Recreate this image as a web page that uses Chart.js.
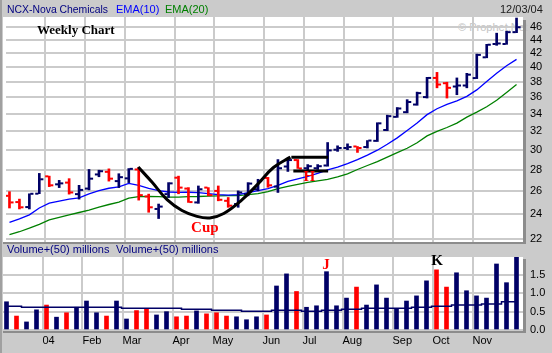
<!DOCTYPE html>
<html>
<head>
<meta charset="utf-8">
<script src="https://cdn.jsdelivr.net/npm/chart.js@4.4.0/dist/chart.umd.min.js"></script>
<style>
  body { margin: 0; background: #cbcbcb; }
  #wrap { position: relative; width: 552px; height: 353px; overflow: hidden; background: #cbcbcb; }
  #wrap canvas { position: absolute; left: 0; top: 0; }
  .box { position: absolute; }
  .txt { position: absolute; font: 11px "Liberation Sans", Arial, sans-serif; line-height: 13px; white-space: nowrap; }
</style>
</head>
<body>
<div id="wrap">
  <div class="box" style="left:3px;top:17px;width:520px;height:225px;background:#fff"></div>
  <div class="box" style="left:3px;top:257px;width:520px;height:73px;background:#fff"></div>
  <div class="txt" style="left:458px;top:21px;color:#c4c4c4;font-size:11px">© Prophet.Net</div>
  <canvas id="vol" width="552" height="353"></canvas>
  <canvas id="price" width="552" height="353"></canvas>
  <div class="box" style="left:523px;top:20px;width:3px;height:224px;background:#8c8c8c"></div>
  <div class="box" style="left:3px;top:242px;width:523px;height:2px;background:#8c8c8c"></div>
  <div class="box" style="left:523px;top:259px;width:3px;height:74px;background:#8c8c8c"></div>
  <div class="box" style="left:3px;top:331px;width:523px;height:2px;background:#8c8c8c"></div>
  <div class="box" style="left:0;top:0;width:2px;height:353px;background:#a0a0a0"></div>
  <div class="txt" style="left:7px;top:3px;color:#000080;font-size:10.4px">NCX-Nova Chemicals</div>
  <div class="txt" style="left:116px;top:3px;color:#0000ff">EMA(10)</div>
  <div class="txt" style="left:165px;top:3px;color:#008000">EMA(20)</div>
  <div class="txt" style="left:500px;top:3px;color:#202020">12/03/04</div>
  <div class="txt" style="left:7px;top:243px;color:#000080">Volume+(50) millions</div>
  <div class="txt" style="left:116px;top:243px;color:#000080">Volume+(50) millions</div>
  <div class="txt" style="left:37px;top:22px;color:#000;font:bold 13px 'Liberation Serif', 'Times New Roman', serif;line-height:15px">Weekly Chart</div>
</div>
<script>
'use strict';
// weekly bars, 12/12/03 .. 12/03/04 (index 0..51)
let highs = [25.93, 25.27, 25.74, 27.63, 27.37, 26.97, 27.13, 26.51, 28.01, 27.94,
    28.07, 27.60, 28.10, 28.22, 25.71, 24.84, 26.76, 27.37, 26.30, 26.45,
    26.30, 26.45, 25.41, 26.00, 26.76, 27.07, 27.25, 28.99, 29.09, 28.99,
    28.49, 28.49, 30.76, 30.41, 30.62, 30.34, 30.97, 32.95, 33.83, 34.74,
    35.70, 36.65, 38.58, 39.25, 37.93, 38.50, 39.12, 41.83, 43.27, 44.98,
    45.29, 47.41]
let lows = [24.50, 24.42, 24.42, 25.75, 26.39, 26.30, 25.71, 25.27, 26.09, 27.31,
    26.90, 26.30, 26.76, 25.18, 24.14, 23.62, 25.41, 25.74, 24.98, 24.90,
    25.56, 25.12, 24.56, 24.56, 25.56, 26.00, 26.33, 25.86, 27.82, 28.11,
    27.96, 28.01, 28.33, 29.83, 30.00, 29.72, 30.18, 30.87, 32.05, 33.57,
    34.10, 35.01, 35.90, 37.20, 35.90, 36.32, 37.20, 38.41, 41.29, 43.12,
    43.27, 45.06]
let opens = [25.56, 25.01, 24.58, 25.75, 27.35, 26.60, 26.76, 25.71, 26.21, 27.53,
    27.78, 26.90, 27.16, 28.01, 25.50, 24.42, 25.71, 27.22, 26.21, 24.98,
    26.30, 26.00, 25.12, 24.84, 25.71, 26.15, 27.20, 26.39, 28.30, 28.94,
    28.13, 28.13, 28.40, 30.00, 30.18, 30.34, 30.28, 30.94, 32.13, 33.63,
    34.18, 35.10, 36.02, 38.50, 37.80, 37.37, 37.50, 38.48, 41.36, 43.32,
    43.32, 45.14]
let closes = [24.98, 24.56, 25.74, 27.07, 26.51, 26.69, 25.86, 26.09, 27.13, 27.84,
    27.13, 27.27, 28.07, 25.62, 24.56, 24.62, 26.69, 26.30, 25.01, 26.15,
    25.62, 25.21, 24.70, 25.86, 26.67, 26.90, 26.51, 28.13, 28.94, 28.11,
    28.33, 28.33, 29.93, 30.18, 30.28, 30.18, 30.97, 32.88, 33.71, 34.62,
    35.41, 36.52, 38.50, 37.63, 37.20, 37.50, 38.94, 41.71, 43.21, 43.40,
    45.14, 45.92]
let priceDown = [1, 1, 0, 0, 1, 0, 1, 0, 0, 0, 1, 0, 0, 1, 1, 0, 0, 1, 1, 0,
    1, 1, 1, 0, 0, 0, 1, 0, 0, 1, 0, 0, 0, 0, 0, 1, 0, 0, 0, 0,
    0, 0, 0, 1, 1, 0, 0, 0, 0, 0, 0, 0]
let ema10 = [23.31, 23.59, 23.92, 24.50, 24.92, 25.10, 25.27, 25.38, 25.73, 26.02,
    26.24, 26.36, 26.69, 26.51, 26.24, 26.02, 25.90, 25.86, 25.88, 25.84,
    25.75, 25.66, 25.62, 25.66, 25.84, 26.02, 26.20, 26.51, 26.88, 27.11,
    27.35, 27.63, 27.96, 28.25, 28.59, 28.99, 29.44, 29.95, 30.57, 31.26,
    32.08, 32.91, 33.89, 34.59, 35.13, 35.56, 36.11, 36.93, 38.02, 39.14,
    40.16, 41.07]
let ema20 = [22.33, 22.56, 22.84, 23.15, 23.51, 23.71, 23.92, 24.12, 24.33, 24.58,
    24.80, 25.01, 25.36, 25.49, 25.50, 25.49, 25.44, 25.44, 25.49, 25.50,
    25.53, 25.55, 25.58, 25.58, 25.66, 25.75, 25.93, 26.20, 26.42, 26.60,
    26.79, 26.93, 27.06, 27.30, 27.58, 28.01, 28.40, 28.79, 29.24, 29.69,
    30.15, 30.73, 31.48, 31.97, 32.41, 32.91, 33.60, 34.18, 34.83, 35.62,
    36.61, 37.63]

// volume in millions
let volumes = [0.77, 0.38, 0.22, 0.55, 0.68, 0.35, 0.47, 0.62, 0.79, 0.47,
    0.38, 0.79, 0.30, 0.53, 0.57, 0.41, 0.50, 0.36, 0.38, 0.52,
    0.44, 0.47, 0.38, 0.36, 0.28, 0.36, 0.41, 1.20, 1.53, 1.05,
    0.62, 0.66, 1.59, 0.66, 0.87, 1.17, 0.68, 1.23, 0.87, 0.57,
    0.79, 0.93, 1.34, 1.64, 1.17, 1.56, 1.07, 0.93, 0.87, 1.80,
    1.29, 2.02]
let volDown = [0, 1, 0, 0, 1, 0, 1, 0, 0, 0, 1, 0, 0, 1, 1, 0, 0, 1, 1, 0,
    1, 1, 1, 0, 0, 0, 1, 0, 0, 1, 0, 0, 0, 0, 0, 1, 0, 0, 0, 0,
    0, 0, 0, 1, 1, 0, 0, 0, 0, 0, 0, 0]
let volAvg = [0.65, 0.65, 0.62, 0.62, 0.62, 0.62, 0.62, 0.62, 0.62, 0.62,
    0.62, 0.62, 0.59, 0.59, 0.59, 0.59, 0.59, 0.59, 0.565, 0.565,
    0.565, 0.54, 0.54, 0.54, 0.51, 0.51, 0.51, 0.54, 0.54, 0.54,
    0.51, 0.51, 0.54, 0.54, 0.565, 0.565, 0.59, 0.59, 0.59, 0.59,
    0.59, 0.62, 0.62, 0.65, 0.65, 0.68, 0.68, 0.68, 0.71, 0.71,
    0.77, 0.77]

// month gridlines (in week units) and their labels
let monthAt = [3.6, 7.6, 11.6, 16.6, 20.6, 25.6, 29.6, 33.6, 38.6, 42.6, 46.6]
let monthNames = ['04', 'Feb', 'Mar', 'Apr', 'May', 'Jun', 'Jul', 'Aug', 'Sep', 'Oct', 'Nov']
let priceTicks = [22, 24, 26, 28, 30, 32, 34, 36, 38, 40, 42, 44, 46]
let volTicks = [0, 0.5, 1, 1.5]

// hand drawn cup and handle
let cupX = [12.95, 14.35, 15.85, 17.35, 18.85, 20.15, 21.55, 23.35, 24.95, 26.55, 28.25]
let cupY = [28.25, 26.79, 25.22, 24.29, 23.80, 23.67, 24.04, 25.18, 26.60, 28.20, 29.24]
let handleTop = [[28.35, 29.22], [32.05, 29.22]]
let handleBottom = [[28.55, 27.85], [32.05, 27.85]]

let priceNotes = [
    { text: 'Cup', x: 19.65, y: 22.87, color: '#ff0000' },
    { text: 'H', x: 30.15, y: 27.30, color: '#ff0000' }
]
let volNotes = [
    { text: 'J', x: 31.95, y: 1.78, color: '#ff0000' },
    { text: 'K', x: 43.05, y: 1.88, color: '#000000' }
]

const NAVY = '#000066'
const RED = '#ff0000'
const GRID = '#cbcbcb'
const X_MIN = -0.35
const X_MAX = 51.65

function notePlugin(notes) {
    return {
        id: 'notes',
        afterDatasetsDraw(chart) {
            let ctx = chart.ctx
            let xs = chart.scales.x
            let ys = chart.scales.y
            ctx.save()
            ctx.font = 'bold 15px "Liberation Serif", "Times New Roman", serif'
            ctx.textAlign = 'center'
            ctx.textBaseline = 'middle'
            notes.forEach(n => {
                ctx.fillStyle = n.color
                ctx.fillText(n.text, xs.getPixelForValue(n.x), ys.getPixelForValue(n.y))
            })
            ctx.restore()
        }
    }
}

function xAxis(showLabels) {
    return {
        type: 'linear',
        min: X_MIN,
        max: X_MAX,
        offset: false,
        afterBuildTicks: s => { s.ticks = monthAt.map(v => ({ value: v })) },
        afterFit: s => { s.height = showLabels ? 23 : 0; s.paddingLeft = 0; s.paddingRight = 0 },
        grid: { color: GRID, lineWidth: 2, drawTicks: false, offset: false },
        border: { display: false },
        ticks: {
            display: showLabels,
            autoSkip: false,
            maxRotation: 0,
            align: 'start',
            padding: 4,
            color: '#000',
            font: { family: '"Liberation Sans", Arial, sans-serif', size: 11 },
            callback: (v, i) => monthNames[i]
        }
    }
}

let weeks = highs.map((h, i) => i)
let barColor = priceDown.map(d => d ? RED : NAVY)

new Chart(document.getElementById('price'), {
    type: 'bar',
    data: {
        datasets: [
            { type: 'line', data: cupX.map((x, i) => ({ x: x, y: cupY[i] })), borderColor: '#000', borderWidth: 3, pointRadius: 0, tension: 0.4, order: 0 },
            { type: 'line', data: handleTop.map(p => ({ x: p[0], y: p[1] })), borderColor: '#000', borderWidth: 3, pointRadius: 0, order: 0 },
            { type: 'line', data: handleBottom.map(p => ({ x: p[0], y: p[1] })), borderColor: '#000', borderWidth: 3, pointRadius: 0, order: 0 },
            { type: 'scatter', data: weeks.map(i => ({ x: i - 0.25, y: opens[i] })), pointStyle: 'line', pointRadius: 1.6, pointBorderWidth: 2, pointBorderColor: barColor, order: 1 },
            { type: 'scatter', data: weeks.map(i => ({ x: i + 0.25, y: closes[i] })), pointStyle: 'line', pointRadius: 1.6, pointBorderWidth: 2, pointBorderColor: barColor, order: 1 },
            { type: 'bar', data: weeks.map(i => ({ x: i, y: [lows[i], highs[i]] })), backgroundColor: barColor, barThickness: 2, order: 1 },
            { type: 'line', label: 'EMA(10)', data: weeks.map(i => ({ x: i, y: ema10[i] })), borderColor: '#0000ff', borderWidth: 1.3, pointRadius: 0, tension: 0, order: 2 },
            { type: 'line', label: 'EMA(20)', data: weeks.map(i => ({ x: i, y: ema20[i] })), borderColor: '#008000', borderWidth: 1.3, pointRadius: 0, tension: 0, order: 2 }
        ]
    },
    options: {
        responsive: false,
        animation: false,
        events: [],
        layout: { padding: { left: 3, top: 17, bottom: 111, right: 0 } },
        plugins: { legend: { display: false }, tooltip: { enabled: false } },
        scales: {
            x: xAxis(false),
            y: {
                type: 'logarithmic',
                position: 'right',
                min: 21.77,
                max: 47.58,
                afterBuildTicks: s => { s.ticks = priceTicks.map(v => ({ value: v })) },
                afterFit: s => { s.width = 29 },
                grid: { color: GRID, lineWidth: 2, drawTicks: false },
                border: { display: false },
                ticks: {
                    autoSkip: false,
                    padding: 7,
                    color: '#000',
                    font: { family: '"Liberation Sans", Arial, sans-serif', size: 11 },
                    callback: v => String(v)
                }
            }
        }
    },
    plugins: [notePlugin(priceNotes)]
})

new Chart(document.getElementById('vol'), {
    type: 'bar',
    data: {
        datasets: [
            { type: 'line', data: weeks.map(i => ({ x: i, y: volAvg[i] })), borderColor: NAVY, borderWidth: 1.5, pointRadius: 0, stepped: 'middle', order: 0 },
            { type: 'bar', data: weeks.map(i => ({ x: i, y: volumes[i] })), backgroundColor: volDown.map(d => d ? RED : NAVY), barThickness: 4, order: 1 }
        ]
    },
    options: {
        responsive: false,
        animation: false,
        events: [],
        layout: { padding: { left: 3, top: 257, bottom: 0, right: 0 } },
        plugins: { legend: { display: false }, tooltip: { enabled: false } },
        scales: {
            x: xAxis(true),
            y: {
                position: 'right',
                min: 0,
                max: 1.99,
                afterBuildTicks: s => { s.ticks = volTicks.map(v => ({ value: v })) },
                afterFit: s => { s.width = 29 },
                grid: { color: GRID, lineWidth: 2, drawTicks: false },
                border: { display: false },
                ticks: {
                    autoSkip: false,
                    padding: 7,
                    color: '#000',
                    font: { family: '"Liberation Sans", Arial, sans-serif', size: 11 },
                    callback: v => v.toFixed(1)
                }
            }
        }
    },
    plugins: [notePlugin(volNotes)]
})
</script>
</body>
</html>
